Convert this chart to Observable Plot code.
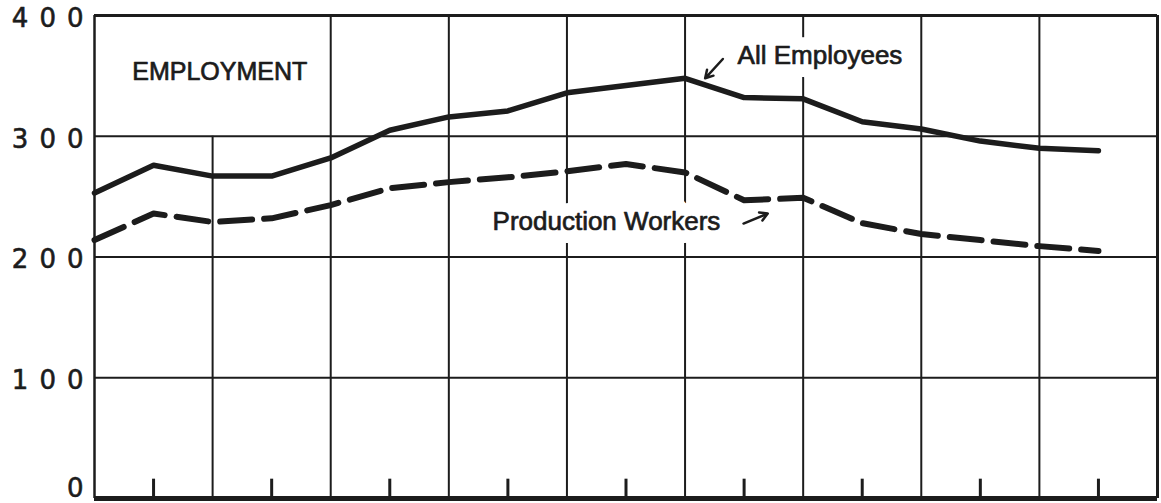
<!DOCTYPE html>
<html><head><meta charset="utf-8">
<script src="https://cdn.jsdelivr.net/npm/d3@7"></script>
<script src="https://cdn.jsdelivr.net/npm/@observablehq/plot@0.6"></script>
<style>
html,body{margin:0;padding:0;background:#fff;}
</style></head><body><div id="chart"></div>
<script>
// Half-year positions (grid units = years)
const periods = [0,0.5,1,1.5,2,2.5,3,3.5,4,4.5,5,5.5,6,6.5,7,7.5,8,8.5];
const allEmployees      = [253,276,267,267,282,305,316,321,336,342,348,332,331,312,306,296,290,288];
const productionWorkers = [214,236,229,232,243,257,262,266,271,277,270,247,249,228,219,214,209,205];
const yTicks = [0,100,200,300,400];
const yGrid = [100,200,300];
const xGrid = [1,2,3,4,5,6,7,8];
const xTicks = [0.5,1.5,2.5,3.5,4.5,5.5,6.5,7.5,8.5];
const notes = [
  {text:"EMPLOYMENT", x:0.32, y:353, size:25, halo:false},
  {text:"All Employees", x:5.445, y:367, size:26, halo:true},
  {text:"Production Workers", x:3.37, y:229.6, size:26, halo:true}
];
const pointers = [
  {x1:5.32, y1:364, x2:5.17, y2:348},
  {x1:5.495, y1:227.7, x2:5.70, y2:236}
];

const ink = "#1c1c1c";
const allData = periods.map((p,i)=>({x:p, y:allEmployees[i]}));
const prodData = periods.map((p,i)=>({x:p, y:productionWorkers[i]}));

const chart = Plot.plot({
  width: 1161, height: 503,
  marginLeft: 94, marginRight: 4, marginTop: 15, marginBottom: 5,
  x: {domain:[0,9], axis:null},
  y: {domain:[0,400], axis:null},
  style: {background:"#fff"},
  marks: [
    Plot.ruleY(yGrid, {stroke: ink, strokeWidth: 2}),
    Plot.ruleX(xGrid, {y1: 0, y2: d => d === 1 ? 300 : 400, stroke: ink, strokeWidth: 2}),
    Plot.ruleX(xTicks, {y1: 0, y2: 16, stroke: ink, strokeWidth: 3}),
    Plot.ruleY([400], {stroke: ink, strokeWidth: 3}),
    Plot.ruleX([0], {stroke: ink, strokeWidth: 2.5}),
    Plot.ruleX([9], {stroke: ink, strokeWidth: 3}),
    Plot.ruleY([0], {stroke: ink, strokeWidth: 5}),
    Plot.text(yTicks, {x: 0, y: d => Math.max(d, 11), text: d => String(d), dx: 0, dy: 3, textAnchor: "end",
      fontSize: 26, fontFamily: "DejaVu Sans", fill: ink, stroke: ink, strokeWidth: 0.6}),
    Plot.text(notes.filter(d=>d.halo), {x:"x", y:"y", text:"text", fontSize: d=>d.size, textAnchor:"start",
      fontFamily:"Liberation Sans", fill:"white", stroke:"white", strokeWidth: 26, strokeLinejoin:"round"}),
    Plot.text(notes, {x:"x", y:"y", text:"text", fontSize: d=>d.size, textAnchor:"start",
      fontFamily:"Liberation Sans", fill: ink, stroke: ink, strokeWidth: 0.7}),
    Plot.line(allData, {x:"x", y:"y", stroke: ink, strokeWidth: 5.5, strokeLinejoin:"round", strokeLinecap:"round"}),
    Plot.line(prodData, {x:"x", y:"y", stroke: ink, strokeWidth: 6, strokeDasharray:"32,12", strokeLinejoin:"round"}),
    Plot.arrow(pointers, {x1:"x1", y1:"y1", x2:"x2", y2:"y2", stroke: ink, strokeWidth: 2.5, headLength: 11})
  ]
});
const tickSet = new Set(yTicks.map(String));
d3.select(chart).selectAll("text").each(function() {
  if (tickSet.has(this.textContent)) this.setAttribute("letter-spacing", "11px");
});
document.getElementById("chart").appendChild(chart);
</script></body></html>
